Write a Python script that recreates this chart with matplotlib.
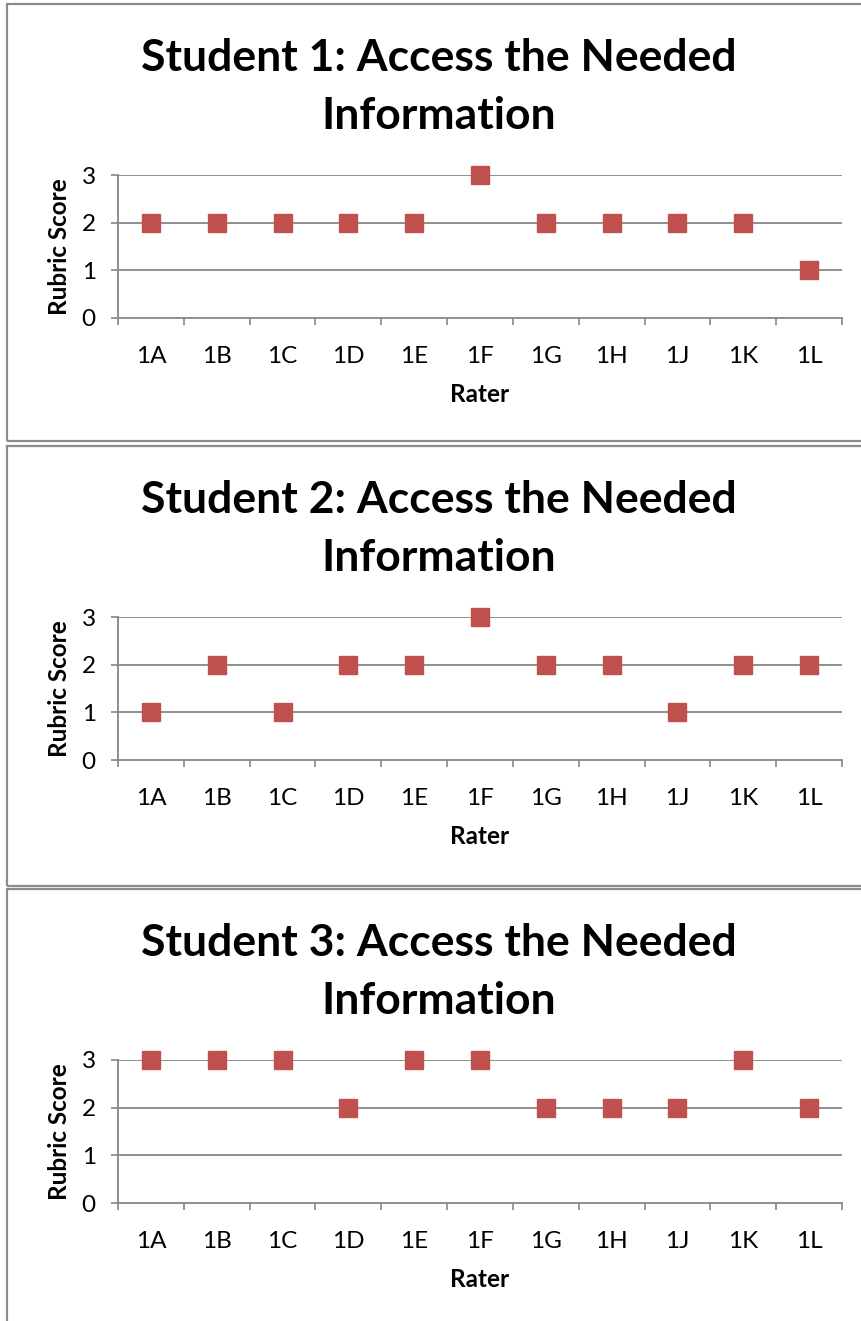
"""
Rubric scores given by each rater, one panel per student.
"""

import matplotlib
matplotlib.use('Agg')
import matplotlib.pyplot as plt
from matplotlib.patches import Rectangle
from matplotlib.ticker import FixedLocator

raters = ['1A', '1B', '1C', '1D', '1E', '1F', '1G', '1H', '1J', '1K', '1L']
student1 = [2, 2, 2, 2, 2, 3, 2, 2, 2, 2, 1]
student2 = [1, 2, 1, 2, 2, 3, 2, 2, 1, 2, 2]
student3 = [3, 3, 3, 2, 3, 3, 2, 2, 2, 3, 2]
titles = [('Student 1: Access the Needed', 'Information'),
          ('Student 2: Access the Needed', 'Information'),
          ('Student 3: Access the Needed', 'Information')]
y_ticks = [0, 1, 2, 3]

plt.rcParams['font.family'] = ['Lato', 'DejaVu Sans']

W, H = 861, 1321
GRAY = '#868686'
MARKER = '#c0504d'
LABEL_FS = 17.5


def px_box(x0, y0, x1, y1):
    """pixel box (top-left origin) -> figure fraction [l, b, w, h]"""
    return [x0 / W, 1 - y1 / H, (x1 - x0) / W, (y1 - y0) / H]


fig = plt.figure(figsize=(W / 100, H / 100), dpi=100)

# panel frames (y top, y bottom in pixels)
frames = [(4, 441), (446, 886), (889, 1340)]
for top, bottom in frames:
    l, b, w, h = px_box(7, top, 880, bottom)
    fig.add_artist(Rectangle((l, b), w, h, transform=fig.transFigure,
                             fill=False, ec='#8c8c8c', lw=1.6))

offsets = [0, 442, 885]
series = [student1, student2, student3]
x = list(range(len(raters)))

for off, scores, title in zip(offsets, series, titles):
    ax = fig.add_axes(px_box(118, 175 + off, 842, 318 + off))
    ax.plot(x, scores, linestyle='none', marker='s', markersize=13.5,
            color=MARKER, zorder=3, clip_on=False)

    ax.set_xlim(-0.5, len(raters) - 0.5)
    ax.set_ylim(0, 3)

    # category boundaries carry the tick marks, centres carry the labels
    ax.xaxis.set_major_locator(FixedLocator([i - 0.5 for i in range(len(raters) + 1)]))
    ax.xaxis.set_minor_locator(FixedLocator(x))
    ax.set_xticklabels([], minor=False)
    ax.set_xticklabels(raters, minor=True, fontsize=LABEL_FS)
    ax.tick_params(axis='x', which='major', length=5, width=1.2, color=GRAY)
    ax.tick_params(axis='x', which='minor', length=0, pad=20)

    ax.set_yticks(y_ticks)
    ax.tick_params(axis='y', length=5, width=1.2, color=GRAY,
                   labelsize=LABEL_FS, pad=11)

    for v in y_ticks[1:]:
        ax.axhline(v, color=GRAY, lw=1.3, zorder=1)

    for side in ['top', 'right']:
        ax.spines[side].set_visible(False)
    for side in ['left', 'bottom']:
        ax.spines[side].set_color(GRAY)
        ax.spines[side].set_linewidth(1.3)

    ax.set_xlabel('Rater', fontsize=LABEL_FS, fontweight='bold', labelpad=12)
    ax.set_ylabel('Rubric Score', fontsize=LABEL_FS, fontweight='bold', labelpad=8)

    for line, ypx in zip(title, (58, 116)):
        fig.text(439 / W, 1 - (ypx + off) / H, line, ha='center', va='center',
                 fontsize=32, fontweight='bold')

fig.savefig('out.png', dpi=100)
